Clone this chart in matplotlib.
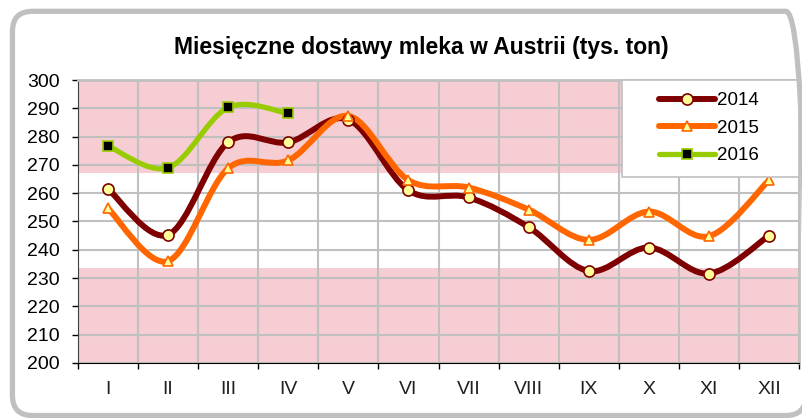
import matplotlib
matplotlib.use('Agg')
import matplotlib.pyplot as plt
import numpy as np
from matplotlib.path import Path
from matplotlib.patches import PathPatch, FancyBboxPatch, Rectangle
from matplotlib.lines import Line2D

plt.rcParams['font.family'] = ['Liberation Sans', 'DejaVu Sans']

months = ['I', 'II', 'III', 'IV', 'V', 'VI', 'VII', 'VIII', 'IX', 'X', 'XI', 'XII']
y2014 = [261.5, 245.3, 278.0, 278.0, 286.0, 261.0, 258.5, 248.0, 232.5, 240.8, 231.6, 245.0]
y2015 = [254.6, 236.0, 268.8, 271.6, 287.3, 264.6, 262.0, 254.2, 243.5, 253.5, 244.8, 264.6]
y2016 = [276.7, 269.0, 290.3, 288.2]
bands = [(267.2, 300), (200, 233.5)]


def smooth_path(xs, ys):
    # Excel-style smoothed line: cubic Bezier with neighbour-based control points
    pts = np.column_stack([xs, ys]).astype(float)
    n = len(pts)
    verts = [pts[0]]
    codes = [Path.MOVETO]
    for i in range(n - 1):
        p0 = pts[max(i - 1, 0)]
        p1 = pts[i]
        p2 = pts[i + 1]
        p3 = pts[min(i + 2, n - 1)]
        c1 = p1 + (p2 - p0) / 6.0
        c2 = p2 - (p3 - p1) / 6.0
        verts += [c1, c2, p2]
        codes += [Path.CURVE4] * 3
    return Path(verts, codes)


fig = plt.figure(figsize=(8.03, 4.18), dpi=100)
fig.patch.set_facecolor('white')

frame = FancyBboxPatch((0.0155, 0.006), 0.988, 0.967,
                       boxstyle='round,pad=0,rounding_size=0.025',
                       transform=fig.transFigure, facecolor='none',
                       edgecolor='#c0c0c0', linewidth=3.8, mutation_aspect=803 / 418)
fig.patches.append(frame)

ax = fig.add_axes([0.0971, 0.1316, 0.898, 0.677])
ax.set_xlim(-0.5, 11.5)
ax.set_ylim(200, 300)

for lo, hi in bands:
    ax.axhspan(lo, hi, color='#f5cdd3', zorder=0, lw=0)

x = np.arange(len(months))
series = [
    ('2014', y2014, '#7f0000', 4.3, 'o', '#ffff99', '#7f0000', 8),
    ('2015', y2015, '#ff6600', 4.3, '^', '#ffff99', '#ff6600', 7.5),
    ('2016', y2016, '#99cc00', 3.8, 's', 'black', '#99cc00', 7.3),
]
handles = []
for label, vals, col, lw, mk, mfc, mec, ms in series:
    xs = x[:len(vals)]
    ax.add_patch(PathPatch(smooth_path(xs, vals), facecolor='none', edgecolor=col,
                           lw=lw, capstyle='round', joinstyle='round', zorder=3))
    ax.plot(xs, vals, linestyle='none', marker=mk, markersize=ms,
            markerfacecolor=mfc, markeredgecolor=mec, markeredgewidth=1.2, zorder=4)
    handles.append(Line2D([], [], color=col, lw=lw, marker=mk, markersize=ms,
                          markerfacecolor=mfc, markeredgecolor=mec,
                          markeredgewidth=1.2, solid_capstyle='round'))

ax.set_xticks(x)
ax.set_xticklabels(months)
ax.set_xticks(np.arange(-0.5, 12, 1), minor=True)
ax.set_yticks(np.arange(200, 301, 10))
ax.tick_params(axis='x', which='major', length=0, labelsize=14, pad=13, colors='#202020')
ax.tick_params(axis='x', which='minor', length=4, width=1, direction='out', color='black')
ax.tick_params(axis='y', length=4.3, width=1, direction='out', labelsize=14, pad=9,
               colors='black')
ax.grid(True, which='minor', axis='x', color='#c0c0c0', lw=1.5)
ax.grid(True, which='major', axis='y', color='#c0c0c0', lw=1.5)
ax.set_axisbelow(True)
for side in ['top', 'right']:
    ax.spines[side].set_color('#c0c0c0')
    ax.spines[side].set_linewidth(2)
ax.spines['left'].set_color('#404040')
ax.spines['bottom'].set_color('black')

# legend box drawn separately to get Excel's wide padding
ax.add_patch(Rectangle((0.7545, 0.657), 0.2455, 0.343, transform=ax.transAxes,
                       facecolor='white', edgecolor='#c0c0c0', lw=1.2, zorder=9,
                       clip_on=False))
leg = ax.legend(handles, ['2014', '2015', '2016'], loc='center',
                bbox_to_anchor=(0.8745, 0.830), borderaxespad=0, frameon=False,
                fontsize=13.5, handlelength=3.0, labelspacing=0.55,
                borderpad=0, handletextpad=0.1)
leg.set_zorder(10)

fig.text(0.525, 0.871, 'Miesięczne dostawy mleka w Austrii (tys. ton)',
         ha='center', va='baseline', fontsize=16.5, fontweight='bold')

fig.savefig('out.png', dpi=100)
